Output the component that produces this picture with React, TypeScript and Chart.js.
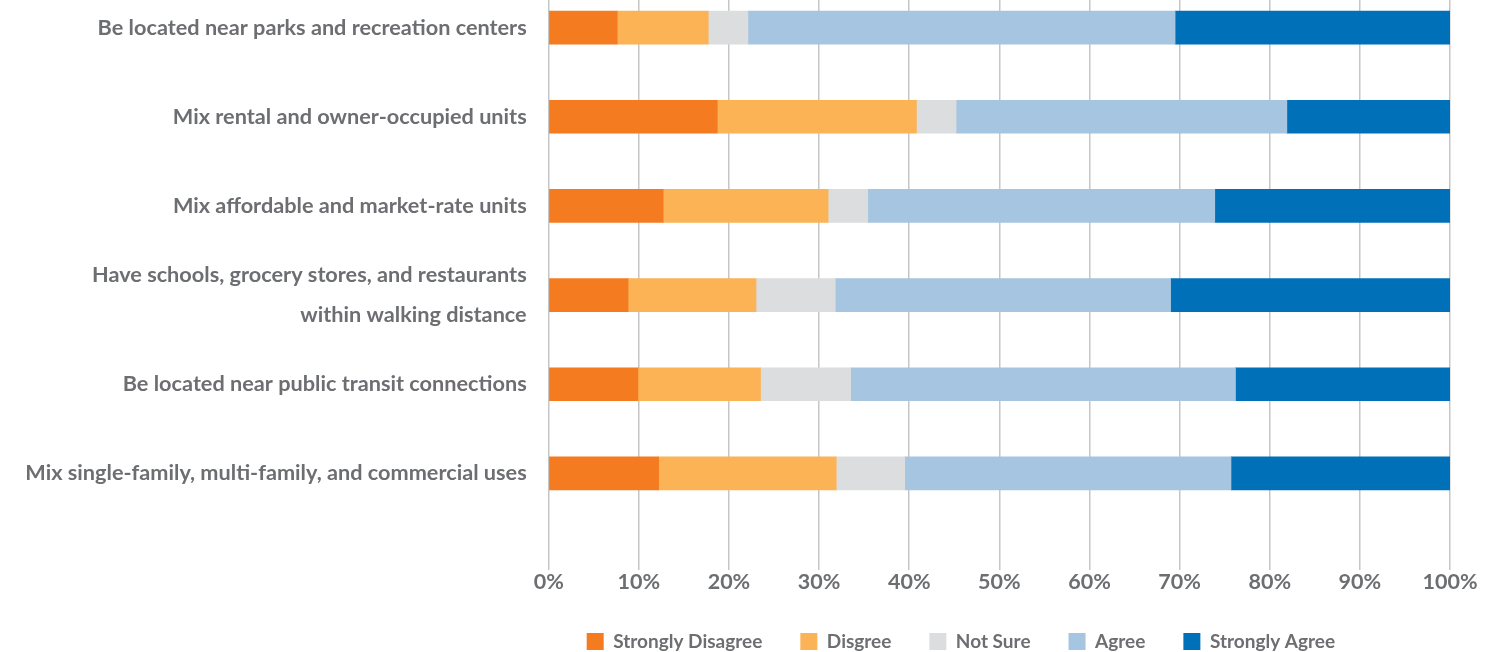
import React, { useEffect, useRef } from "react";
import { Chart, registerables } from "chart.js";

Chart.register(...registerables);

const categories: (string | string[])[] = [
  "Be located near parks and recreation centers",
  "Mix rental and owner-occupied units",
  "Mix affordable and market-rate units",
  ["Have schools, grocery stores, and restaurants", "within walking distance"],
  "Be located near public transit connections",
  "Mix single-family, multi-family, and commercial uses",
];

const seriesNames = ["Strongly Disagree", "Disgree", "Not Sure", "Agree", "Strongly Agree"];

const stronglyDisagree = [7.6, 18.7, 12.7, 8.8, 9.9, 12.2];
const disagree = [10.1, 22.1, 18.3, 14.2, 13.6, 19.7];
const notSure = [4.4, 4.4, 4.4, 8.8, 10.0, 7.6];
const agree = [47.4, 36.7, 38.5, 37.2, 42.7, 36.2];
const stronglyAgree = [30.5, 18.1, 26.1, 31.0, 23.8, 24.3];

const seriesColors = ["#f47b20", "#fbb355", "#dcddde", "#a5c5e1", "#0070b9"];

const xTickValues = [0, 10, 20, 30, 40, 50, 60, 70, 80, 90, 100];

const GRAY = "#6d6e71";
const FONT = 'Lato, "Open Sans", sans-serif';
const W = 1506;
const SHIFT = 21;
const H = 682;

export default function App() {
  const ref = useRef<HTMLCanvasElement | null>(null);

  useEffect(() => {
    if (!ref.current) return;
    const all = [stronglyDisagree, disagree, notSure, agree, stronglyAgree];
    const chart = new Chart(ref.current, {
      type: "bar",
      data: {
        labels: categories,
        datasets: all.map((d, i) => ({
          label: seriesNames[i],
          data: d,
          backgroundColor: seriesColors[i],
          borderWidth: 0,
          barThickness: 33,
        })),
      },
      options: {
        indexAxis: "y",
        responsive: false,
        animation: false,
        devicePixelRatio: 1,
        layout: { padding: { top: 4, right: 56, bottom: 0, left: 0 } },
        scales: {
          x: {
            stacked: true,
            min: 0,
            max: 100,
            afterBuildTicks: (scale: any) => {
              scale.ticks = xTickValues.map((v) => ({ value: v }));
            },
            grid: {
              color: "#c6c6c6",
              lineWidth: 1.5,
              drawTicks: true,
              tickLength: 52,
              tickColor: "#c6c6c6",
              tickWidth: 1.5,
            },
            border: { display: false },
            ticks: {
              padding: 11.75,
              color: GRAY,
              font: { family: FONT, size: 21.5, weight: "bold", lineHeight: 0.5 / 21.5 },
              callback: (v: any) => v + "%",
            },
          },
          y: {
            stacked: true,
            grid: { display: false, drawTicks: false },
            border: { display: false },
            afterFit: (scale: any) => {
              scale.width = 548.7;
              scale.paddingTop = 0;
              scale.paddingBottom = 0;
            },
            ticks: {
              autoSkip: false,
              padding: 22,
              color: GRAY,
              font: { family: FONT, size: 21.7, weight: "bold", lineHeight: 40 / 21.7 },
            },
          },
        },
        plugins: {
          legend: {
            position: "bottom",
            align: "start",
            fullSize: false,
            labels: {
              boxWidth: 17,
              boxHeight: 17,
              padding: 38,
              color: GRAY,
              font: { family: FONT, size: 19, weight: "bold" },
            },
          },
          tooltip: { enabled: false },
        },
      },
    });
    return () => chart.destroy();
  }, []);

  return (
    <div style={{ position: "fixed", top: -SHIFT, left: 0, width: W, height: H, background: "#fff" }}>
      <canvas ref={ref} width={W} height={H} style={{ width: W, height: H, display: "block" }} />
    </div>
  );
}
